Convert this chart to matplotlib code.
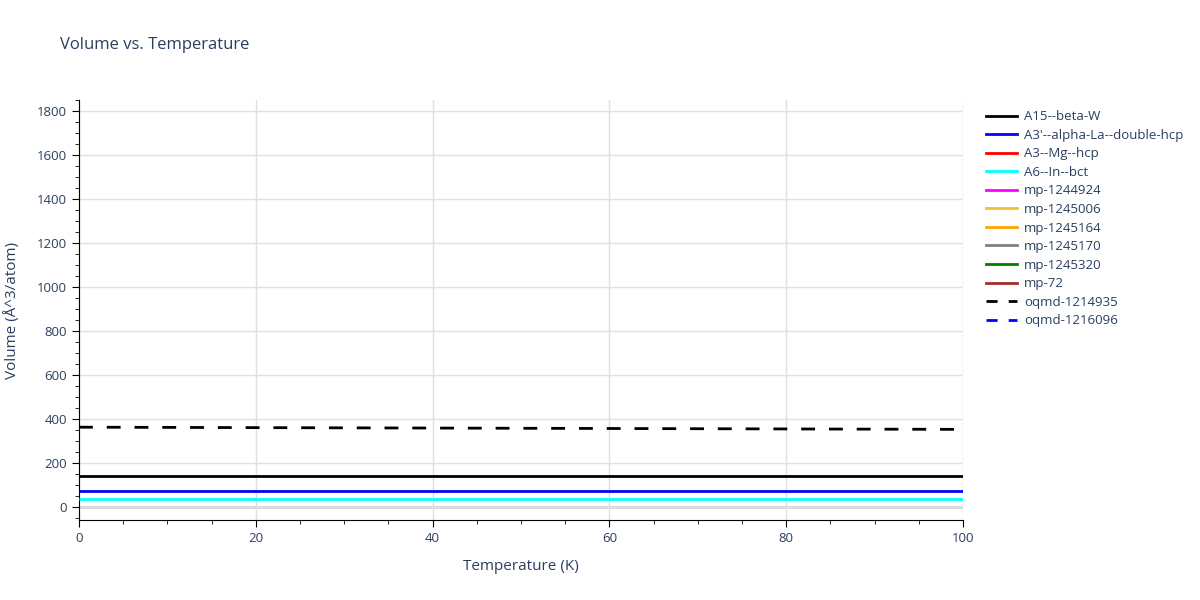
import matplotlib
matplotlib.use("Agg")
import matplotlib.pyplot as plt
from matplotlib.lines import Line2D
from matplotlib.ticker import MultipleLocator

# ── data ─────────────────────────────────────────────────────────────────────
temps_solid = [0, 100]
temps_dash = [0, 20, 40, 60, 80, 100]

names = ["A15--beta-W", "A3'--alpha-La--double-hcp", "A3--Mg--hcp", "A6--In--bct",
         "mp-1244924", "mp-1245006", "mp-1245164", "mp-1245170", "mp-1245320",
         "mp-72", "oqmd-1214935", "oqmd-1216096"]
colors = ["black", "blue", "red", "cyan", "magenta", "#EEC232", "orange",
          "gray", "green", "brown", "black", "blue"]
dashed = [False] * 10 + [True, True]

vol_a15 = [141, 141]
vol_alpha_la = [72, 72]
vol_in_bct = [37, 37]
vol_oqmd_1214935 = [363, 361, 359, 357, 355, 353]

series = {
    "A15--beta-W": (temps_solid, vol_a15),
    "A3'--alpha-La--double-hcp": (temps_solid, vol_alpha_la),
    "A6--In--bct": (temps_solid, vol_in_bct),
    "oqmd-1214935": (temps_dash, vol_oqmd_1214935),
}

TEXT = "#2a3f5f"
plt.rcParams["font.family"] = ["Open Sans", "DejaVu Sans"]

fig = plt.figure(figsize=(12, 6), dpi=100)
ax = fig.add_axes([0.0658, 0.1333, 0.7367, 0.7])

for name, c, d in zip(names, colors, dashed):
    if name not in series:
        continue
    x, y = series[name]
    ax.plot(x, y, color=c, lw=2, ls=(0, (5, 5)) if d else "-", zorder=3,
            solid_capstyle="butt", dash_capstyle="butt")

ax.set_xlim(0, 100)
ax.set_ylim(-59, 1850)
ax.xaxis.set_major_locator(MultipleLocator(20))
ax.xaxis.set_minor_locator(MultipleLocator(5))
ax.yaxis.set_major_locator(MultipleLocator(200))
ax.yaxis.set_minor_locator(MultipleLocator(50))
ax.grid(True, which="major", color="#e0e0e0", lw=1, zorder=0)
ax.axhline(0, color="#d0d0d0", lw=2, zorder=1)
for s in ("top", "right"):
    ax.spines[s].set_visible(False)
for s in ("left", "bottom"):
    ax.spines[s].set_color("black")
ax.tick_params(which="major", length=5, color="black", labelcolor=TEXT, labelsize=9.5)
ax.tick_params(which="minor", length=3, color="black")
ax.set_xlabel("Temperature (K)", color=TEXT, fontsize=11, labelpad=10)
ax.set_ylabel("Volume (Å^3/atom)", color=TEXT, fontsize=11, labelpad=12)
fig.text(0.05, 0.925, "Volume vs. Temperature", color=TEXT, fontsize=12,
         va="center")

handles = [Line2D([], [], color=c, lw=2, ls=(0, (4, 4)) if d else "-")
           for c, d in zip(colors, dashed)]
fig.legend(handles, names, loc="upper left", bbox_to_anchor=(0.817, 0.825),
           frameon=False, fontsize=9.5, labelcolor=TEXT, handlelength=2.4,
           handletextpad=0.5, labelspacing=0.42, borderaxespad=0)

fig.savefig("out.png", dpi=100)
